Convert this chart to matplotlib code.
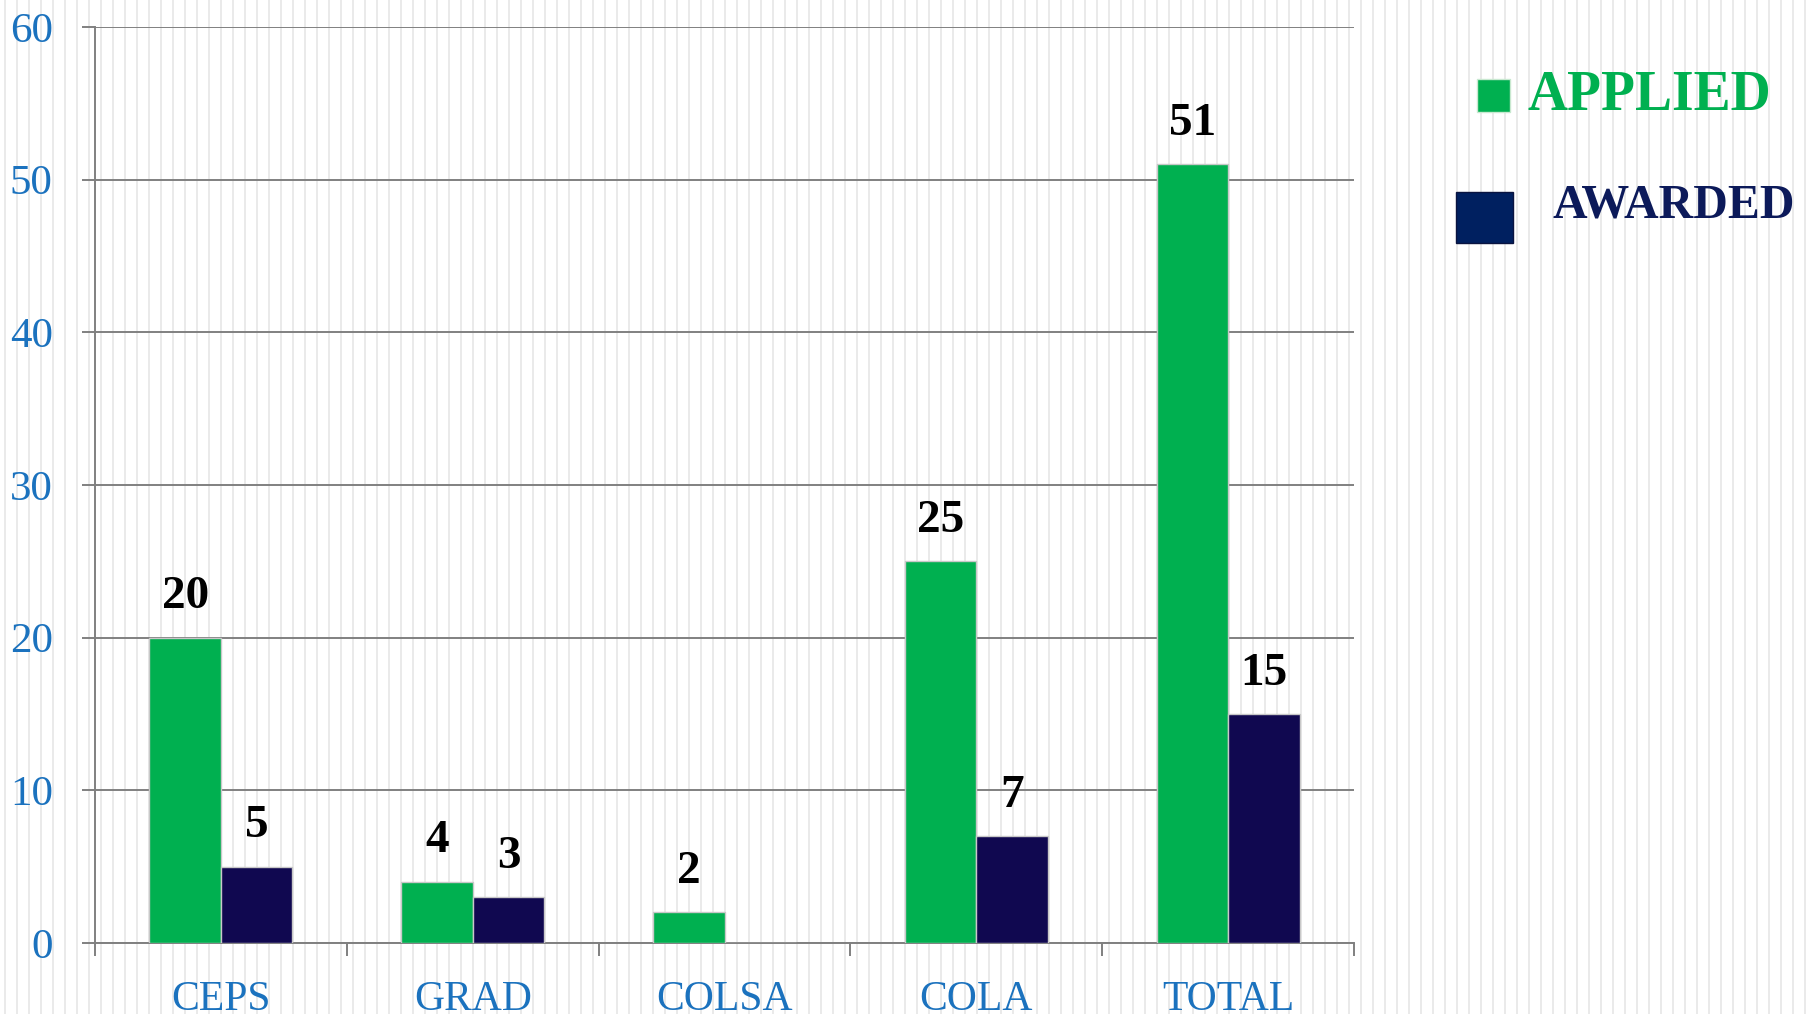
import numpy as np
import matplotlib
matplotlib.use("Agg")
import matplotlib.pyplot as plt
from matplotlib.patches import Rectangle

categories = ["CEPS", "GRAD", "COLSA", "COLA", "TOTAL"]
applied = [20, 4, 2, 25, 51]
awarded = [5, 3, 0, 7, 15]
y_ticks = [0, 10, 20, 30, 40, 50, 60]

green = "#00b050"
navy = "#100850"
blue = "#1b72be"
grid_gray = "#808080"

W, H = 1817, 1014
fig = plt.figure(figsize=(W / 100, H / 100), dpi=100)
fig.patch.set_facecolor("white")

# thin vertical stripes behind everything
bg = fig.add_axes([0, 0, 1, 1], zorder=0)
bg.set_xlim(0, W)
bg.set_ylim(0, H)
bg.axis("off")
bg.vlines(np.arange(5, W, 12), 0, H, color="#e4e4e4", lw=1.1)

ax = fig.add_axes([95 / W, 71 / H, 1259 / W, 916 / H], zorder=1)
ax.set_facecolor("none")

x = np.arange(len(categories))
bw = 0.284
b1 = ax.bar(x - bw / 2, applied, bw, color=green, edgecolor="#c8c8c8", lw=1, zorder=3)
b2 = ax.bar(x + bw / 2, awarded, bw, color=navy, edgecolor="#c8c8c8", lw=1, zorder=3)

for bars, vals in ((b1, applied), (b2, awarded)):
    for r, v in zip(bars, vals):
        if v == 0:
            continue
        ax.annotate(str(v), (r.get_x() + r.get_width() / 2, v),
                    xytext=(0, 14), textcoords="offset points",
                    ha="center", va="bottom", fontsize=34, fontweight="bold",
                    family="Liberation Serif", color="black")

ax.set_xlim(-0.5, len(categories) - 0.5)
ax.set_ylim(0, 60)
ax.set_yticks(y_ticks)
ax.set_yticklabels([str(t) for t in y_ticks], family="Liberation Serif",
                   fontsize=31, color=blue)
ax.tick_params(axis="y", length=9.4, width=1.4, color=grid_gray, pad=21)
ax.yaxis.grid(True, color=grid_gray, lw=1.4, zorder=1)
ax.set_axisbelow(True)

ax.set_xticks(x)
ax.set_xticklabels(categories, family="Liberation Serif", fontsize=30, color=blue)
ax.tick_params(axis="x", which="major", length=0, pad=27)
ax.set_xticks(np.arange(-0.5, len(categories)), minor=True)
ax.tick_params(axis="x", which="minor", length=9.4, width=1.4, color=grid_gray)

for s in ("top", "right"):
    ax.spines[s].set_visible(False)
for s in ("left", "bottom"):
    ax.spines[s].set_color(grid_gray)
    ax.spines[s].set_linewidth(1.4)

# legend entries
fig.add_artist(Rectangle((1477 / W, 1 - 112 / H), 33 / W, 33 / H,
                         transform=fig.transFigure, facecolor=green,
                         edgecolor="#c8e8d0", lw=1, zorder=5))
fig.text(1527 / W, 1 - 110 / H, "APPLIED", family="Liberation Serif",
         fontweight="bold", fontsize=40, color=green, va="baseline", zorder=5)
fig.add_artist(Rectangle((1456 / W, 1 - 243 / H), 57 / W, 51 / H,
                         transform=fig.transFigure, facecolor="#002060",
                         edgecolor="#0a1440", lw=1, zorder=5))
fig.text(1552 / W, 1 - 217 / H, "AWARDED", family="Liberation Serif",
         fontweight="bold", fontsize=34.5, color="#0c1a5a", va="baseline", zorder=5)

fig.savefig("out.png", dpi=100)
